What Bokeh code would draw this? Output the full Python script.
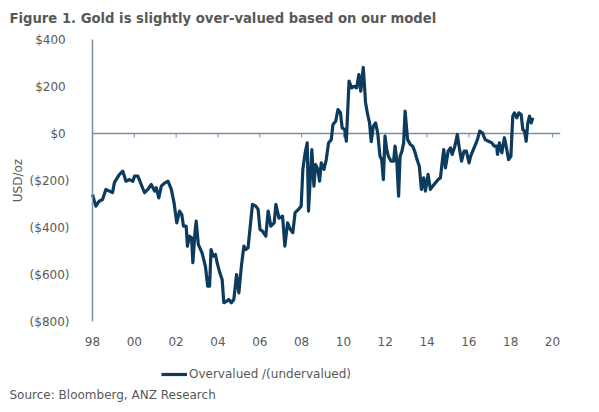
from bokeh.plotting import figure
from bokeh.models import Range1d, FixedTicker, Legend, LegendItem, Title
from bokeh.embed import file_html
from bokeh.resources import INLINE

# ---- data ----
years = [
    1998.00, 1998.16, 1998.32, 1998.48, 1998.64, 1998.80, 1998.96, 1999.05, 1999.29, 1999.45,
    1999.60, 1999.77, 1999.93, 2000.01, 2000.17, 2000.33, 2000.49, 2000.65, 2000.81, 2000.97,
    2001.05, 2001.17, 2001.29, 2001.46, 2001.61, 2001.77, 2001.90, 2002.03, 2002.16, 2002.27,
    2002.35, 2002.48, 2002.54, 2002.64, 2002.74, 2002.80, 2002.90, 2002.96, 2003.06, 2003.24,
    2003.40, 2003.51, 2003.60, 2003.67, 2003.77, 2003.88, 2003.96, 2004.09, 2004.20, 2004.28,
    2004.41, 2004.52, 2004.64, 2004.76, 2004.89, 2005.00, 2005.12, 2005.24, 2005.33, 2005.44,
    2005.65, 2005.81, 2005.92, 2006.01, 2006.13, 2006.29, 2006.40, 2006.53, 2006.69, 2006.77,
    2006.92, 2007.09, 2007.20, 2007.33, 2007.46, 2007.58, 2007.69, 2007.85, 2007.98, 2008.06,
    2008.17, 2008.27, 2008.33, 2008.49, 2008.59, 2008.67, 2008.78, 2008.86, 2008.94, 2009.07,
    2009.18, 2009.29, 2009.42, 2009.50, 2009.63, 2009.74, 2009.86, 2009.94, 2010.06, 2010.14,
    2010.27, 2010.39, 2010.52, 2010.63, 2010.74, 2010.83, 2010.95, 2011.06, 2011.16, 2011.25,
    2011.33, 2011.43, 2011.54, 2011.64, 2011.75, 2011.83, 2011.91, 2011.99, 2012.07, 2012.15,
    2012.28, 2012.40, 2012.47, 2012.55, 2012.64, 2012.71, 2012.80, 2012.88, 2012.95, 2013.07,
    2013.20, 2013.31, 2013.41, 2013.52, 2013.63, 2013.73, 2013.84, 2013.92, 2014.05, 2014.16,
    2014.27, 2014.40, 2014.53, 2014.64, 2014.72, 2014.80, 2014.88, 2015.01, 2015.12, 2015.20,
    2015.33, 2015.45, 2015.53, 2015.65, 2015.77, 2015.88, 2016.01, 2016.09, 2016.25, 2016.41,
    2016.52, 2016.65, 2016.78, 2016.94, 2017.10, 2017.21, 2017.33, 2017.37, 2017.46, 2017.58,
    2017.70, 2017.77, 2017.90, 2018.01, 2018.10, 2018.18, 2018.29, 2018.39, 2018.50, 2018.58,
    2018.66, 2018.74, 2018.82, 2018.90, 2018.98, 2019.06,
]
overvalued = [
    -260, -309, -288, -281, -238, -245, -251, -208, -174, -160,
    -203, -196, -203, -181, -181, -217, -252, -238, -217, -245,
    -231, -274, -224, -210, -203, -238, -295, -380, -330, -345,
    -394, -394, -479, -437, -444, -550, -422, -373, -472, -508,
    -565, -650, -650, -494, -522, -515, -550, -593, -621, -720,
    -714, -706, -720, -706, -600, -678, -565, -479, -494, -486,
    -302, -309, -323, -408, -416, -437, -330, -394, -380, -302,
    -360, -352, -479, -380, -408, -422, -337, -323, -309, -153,
    -82, -40, -330, -68, -224, -132, -153, -203, -125, -153,
    -111, -40, -26, 38, 52, 102, 88, 24, 17, -33,
    223, 194, 201, 194, 251, 180, 281, 131, 80, 45,
    -35, 31, 45, 3, -97, -111, -196, -11, -68, -97,
    -118, -118, -54, -111, -267, -97, -75, -40, 95, -26,
    -47, -54, -75, -111, -139, -238, -189, -245, -174, -238,
    -224, -210, -196, -189, -125, -68, -146, -75, -61, -89,
    -54, -4, -54, -118, -75, -75, -125, -95, -61, -26,
    10, 3, -26, -33, -40, -54, -54, -89, -40, -82,
    -18, -47, -111, -97, 74, 88, 67, 88, 81, 17,
    10, -33, 45, 74, 45, 67,
]
x_ticks = [1998, 2000, 2002, 2004, 2006, 2008, 2010, 2012, 2014, 2016, 2018, 2020]
x_tick_labels = ["98", "00", "02", "04", "06", "08", "10", "12", "14", "16", "18", "20"]
y_ticks = [-800, -600, -400, -200, 0, 200, 400]
y_tick_labels = ["($800)", "($600)", "($400)", "($200)", "$0\u00a0", "$200\u00a0", "$400\u00a0"]
series_name = "Overvalued /(undervalued)"

FONT = "DejaVu Sans"
TXT = "#595959"
AXIS = "#7891a8"
LINE = "#0d3b5e"

# layout: the frame covers the whole drawing area; both axes are pinned inside it
PX_PER_YEAR = 20.91
PX_PER_UNIT = 0.235
X_START = x_ticks[0] - 85 / PX_PER_YEAR
X_END = x_ticks[-1] + 8 / PX_PER_YEAR
Y_MIN, Y_MAX = min(y_ticks), max(y_ticks)
Y_TOP = Y_MAX + 10 / PX_PER_UNIT       # room above so the top label is not cut
Y_BOTTOM = Y_MIN - 268                 # room below the value axis for the legend row

p = figure(width=583, height=405, output_backend="svg", toolbar_location=None,
           x_range=Range1d(X_START, X_END), y_range=Range1d(Y_BOTTOM, Y_TOP),
           min_border_left=7, min_border_right=23, min_border_top=29, min_border_bottom=21)
p.outline_line_color = None
p.grid.grid_line_color = None
p.background_fill_color = "white"
p.border_fill_color = "white"

p.title.text = "Figure 1. Gold is slightly over-valued based on our model"
p.title.text_font = FONT
p.title.text_font_style = "bold"
p.title.text_font_size = "13.2px"
p.title.text_color = TXT
p.title.align = "left"
p.title.offset = 2
p.title.standoff = 7

# x axis: labels only, hung below the value axis' lowest tick
xa = p.xaxis[0]
xa.fixed_location = Y_MIN
xa.ticker = FixedTicker(ticks=x_ticks)
xa.major_label_overrides = {t: l for t, l in zip(x_ticks, x_tick_labels)}
xa.axis_line_color = None
xa.major_tick_line_color = None
xa.major_tick_out = 0
xa.major_tick_in = 0
xa.minor_tick_line_color = None
xa.major_label_standoff = 15
xa.major_label_text_font = FONT
xa.major_label_text_font_size = "12px"
xa.major_label_text_color = TXT

# zero line (from the value axis to the right edge) with small downward year ticks
p.segment(x0=[x_ticks[0]], y0=[0], x1=[X_END], y1=[0], line_color=AXIS, line_width=1.5)
p.segment(x0=x_ticks, y0=[0] * len(x_ticks), x1=x_ticks, y1=[-17] * len(x_ticks),
          line_color=AXIS, line_width=1)

ya = p.yaxis[0]
ya.fixed_location = x_ticks[0]
ya.bounds = (Y_MIN, Y_MAX)
ya.ticker = FixedTicker(ticks=y_ticks)
ya.major_label_overrides = {t: l for t, l in zip(y_ticks, y_tick_labels)}
ya.axis_line_color = AXIS
ya.axis_line_width = 1.5
ya.major_tick_line_color = None
ya.major_tick_out = 0
ya.major_tick_in = 0
ya.minor_tick_line_color = None
ya.major_label_standoff = 23
ya.major_label_text_font = FONT
ya.major_label_text_font_size = "12px"
ya.major_label_text_color = TXT
ya.axis_label = "USD/oz"
ya.axis_label_text_font = FONT
ya.axis_label_text_font_style = "normal"
ya.axis_label_text_font_size = "12px"
ya.axis_label_text_color = TXT
ya.axis_label_standoff = 2

r = p.line(years, overvalued, line_color=LINE, line_width=3.2, line_join="round")

legend = Legend(items=[LegendItem(label=series_name, renderers=[r])],
                location=(154, 2), orientation="horizontal",
                border_line_color=None, background_fill_alpha=0,
                label_text_font=FONT, label_text_font_size="12px", label_text_color=TXT,
                glyph_width=26, glyph_height=16, label_standoff=2,
                padding=0, margin=0, spacing=0)
p.add_layout(legend, "center")

src = Title(text="Source: Bloomberg, ANZ Research", align="left", offset=2, standoff=3,
            text_font=FONT, text_font_size="12px", text_font_style="normal", text_color=TXT)
p.add_layout(src, "below")

open("out.html", "w").write(file_html(p, INLINE))
